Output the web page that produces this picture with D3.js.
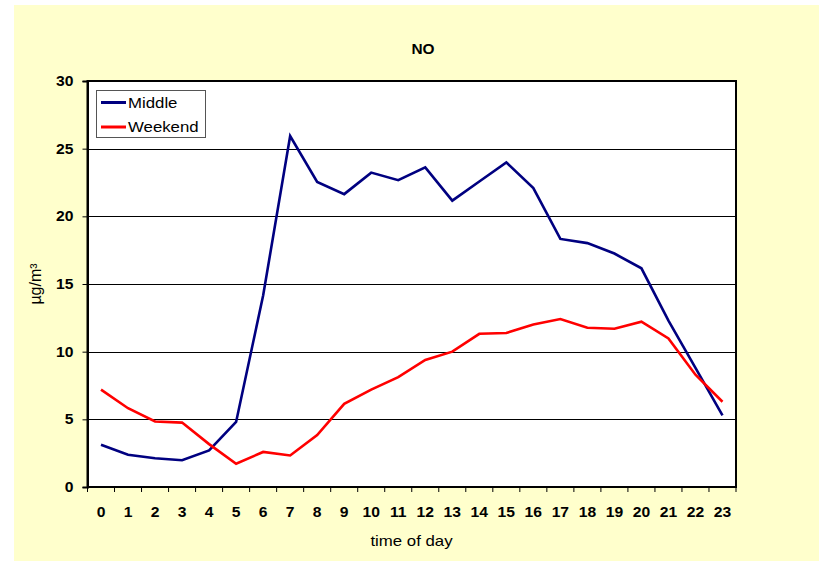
<!DOCTYPE html>
<html><head><meta charset="utf-8">
<script src="https://cdn.jsdelivr.net/npm/d3@7"></script>
<style>
html,body{margin:0;padding:0;background:#fff;}
svg{display:block;font-family:Arial,"Liberation Sans",sans-serif;}
</style></head>
<body>
<svg id="chart" width="819" height="561"></svg>
<script>
const hours = d3.range(0, 24).map(String);
const middle = [3.12,2.38,2.12,1.98,2.7,4.81,14.15,25.93,22.54,21.64,23.23,22.67,23.62,21.16,22.57,23.99,22.09,18.33,18.02,17.25,16.16,12.3,8.8,5.29];
const weekend = [7.2,5.82,4.84,4.76,3.17,1.72,2.59,2.33,3.84,6.14,7.2,8.12,9.39,10.0,11.32,11.38,12.01,12.41,11.77,11.69,12.22,10.98,8.3,6.3];
const yTicks = [0,5,10,15,20,25,30];
const seriesNames = ["Middle","Weekend"];
const seriesColors = ["#000080","#FF0000"];
const title = "NO";
const xTitle = "time of day";
const yTitle = "µg/m³";

const SX = 1.2;  // horizontal glyph stretch seen in the reference
const TSX = 1.12; // stretch for tick labels
const FONT = 'Arial,"Liberation Sans",sans-serif';

const svg = d3.select("#chart");
svg.append("rect").attr("x",14).attr("y",5).attr("width",805).attr("height",556).attr("fill","#FFFFCC");

const L=87.5, R=736, T=81, B=487;
const x = d3.scaleBand().domain(hours).range([L,R]);
const y = d3.scaleLinear().domain([0,30]).range([B,T]);

svg.append("rect").attr("x",L).attr("y",T).attr("width",R-L).attr("height",B-T).attr("fill","#fff");

// gridlines
svg.append("g").selectAll("line").data(yTicks.filter(d=>d>0&&d<30)).join("line")
  .attr("x1",L).attr("x2",R).attr("y1",d=>Math.round(y(d))+0.5).attr("y2",d=>Math.round(y(d))+0.5)
  .attr("stroke","#000").attr("stroke-width",1);

// border
svg.append("rect").attr("x",L).attr("y",T).attr("width",R-L).attr("height",B-T)
  .attr("fill","none").attr("stroke","#000").attr("stroke-width",2);

// y axis
const yAxis = svg.append("g").attr("transform",`translate(${L},0)`)
  .call(d3.axisLeft(y).tickValues(yTicks).tickSize(5).tickFormat(d3.format("d")));
yAxis.attr("font-size",null).attr("font-family",null);
yAxis.select(".domain").attr("stroke-width",2);
yAxis.selectAll(".tick line").attr("stroke-width",1);
yAxis.selectAll("text").attr("x",-14/TSX).attr("transform",`scale(${TSX},1)`)
  .style("font-size","14px").attr("font-weight","bold").attr("fill","#000").style("font-family",FONT);

// x axis
const xAxis = svg.append("g").attr("transform",`translate(0,${B})`)
  .call(d3.axisBottom(x).tickSize(0).tickPadding(20.5));
xAxis.attr("font-size",null).attr("font-family",null);
xAxis.select(".domain").remove();
xAxis.selectAll("text").attr("transform",`scale(${TSX},1)`)
  .style("font-size","14px").attr("font-weight","bold").attr("fill","#000").style("font-family",FONT);
// boundary ticks between categories
const bounds = d3.range(0,25).map(i=>L + i*x.step());
svg.append("g").selectAll("line").data(bounds).join("line")
  .attr("x1",d=>d).attr("x2",d=>d).attr("y1",B).attr("y2",B+5)
  .attr("stroke","#000").attr("stroke-width",1);

// lines
const line = d3.line().x((d,i)=>x(hours[i])+x.bandwidth()/2).y(d=>y(d));
[middle,weekend].forEach((s,k)=>{
  svg.append("path").datum(s).attr("d",line).attr("fill","none")
    .attr("stroke",seriesColors[k]).attr("stroke-width",2.6).attr("stroke-linejoin","miter");
});

function stext(px, py, txt, size, weight, anchor, rot, sx){
  sx = sx || SX;
  return svg.append("text")
    .attr("transform", rot ? `translate(${px},${py}) rotate(-90)` : `translate(${px},${py}) scale(${sx},1)`)
    .attr("text-anchor",anchor).style("font-size",size+"px").attr("font-weight",weight)
    .style("font-family",FONT).attr("fill","#000").text(txt);
}

// titles
stext(423, 54, title, 14, "bold", "middle", false, 1.1);
stext(411.5, 546, xTitle, 14, "normal", "middle");
stext(41, 284, yTitle, 16, "normal", "middle", true);

// legend
svg.append("rect").attr("x",96.5).attr("y",90.5).attr("width",109).attr("height",47)
  .attr("fill","#fff").attr("stroke","#555").attr("stroke-width",1);
seriesNames.forEach((n,k)=>{
  const yy = 102.5 + k*24.5;
  svg.append("line").attr("x1",101).attr("x2",126).attr("y1",yy).attr("y2",yy)
    .attr("stroke",seriesColors[k]).attr("stroke-width",3);
  stext(128, yy+5, n, 14, "normal", "start");
});
</script>
</body></html>
